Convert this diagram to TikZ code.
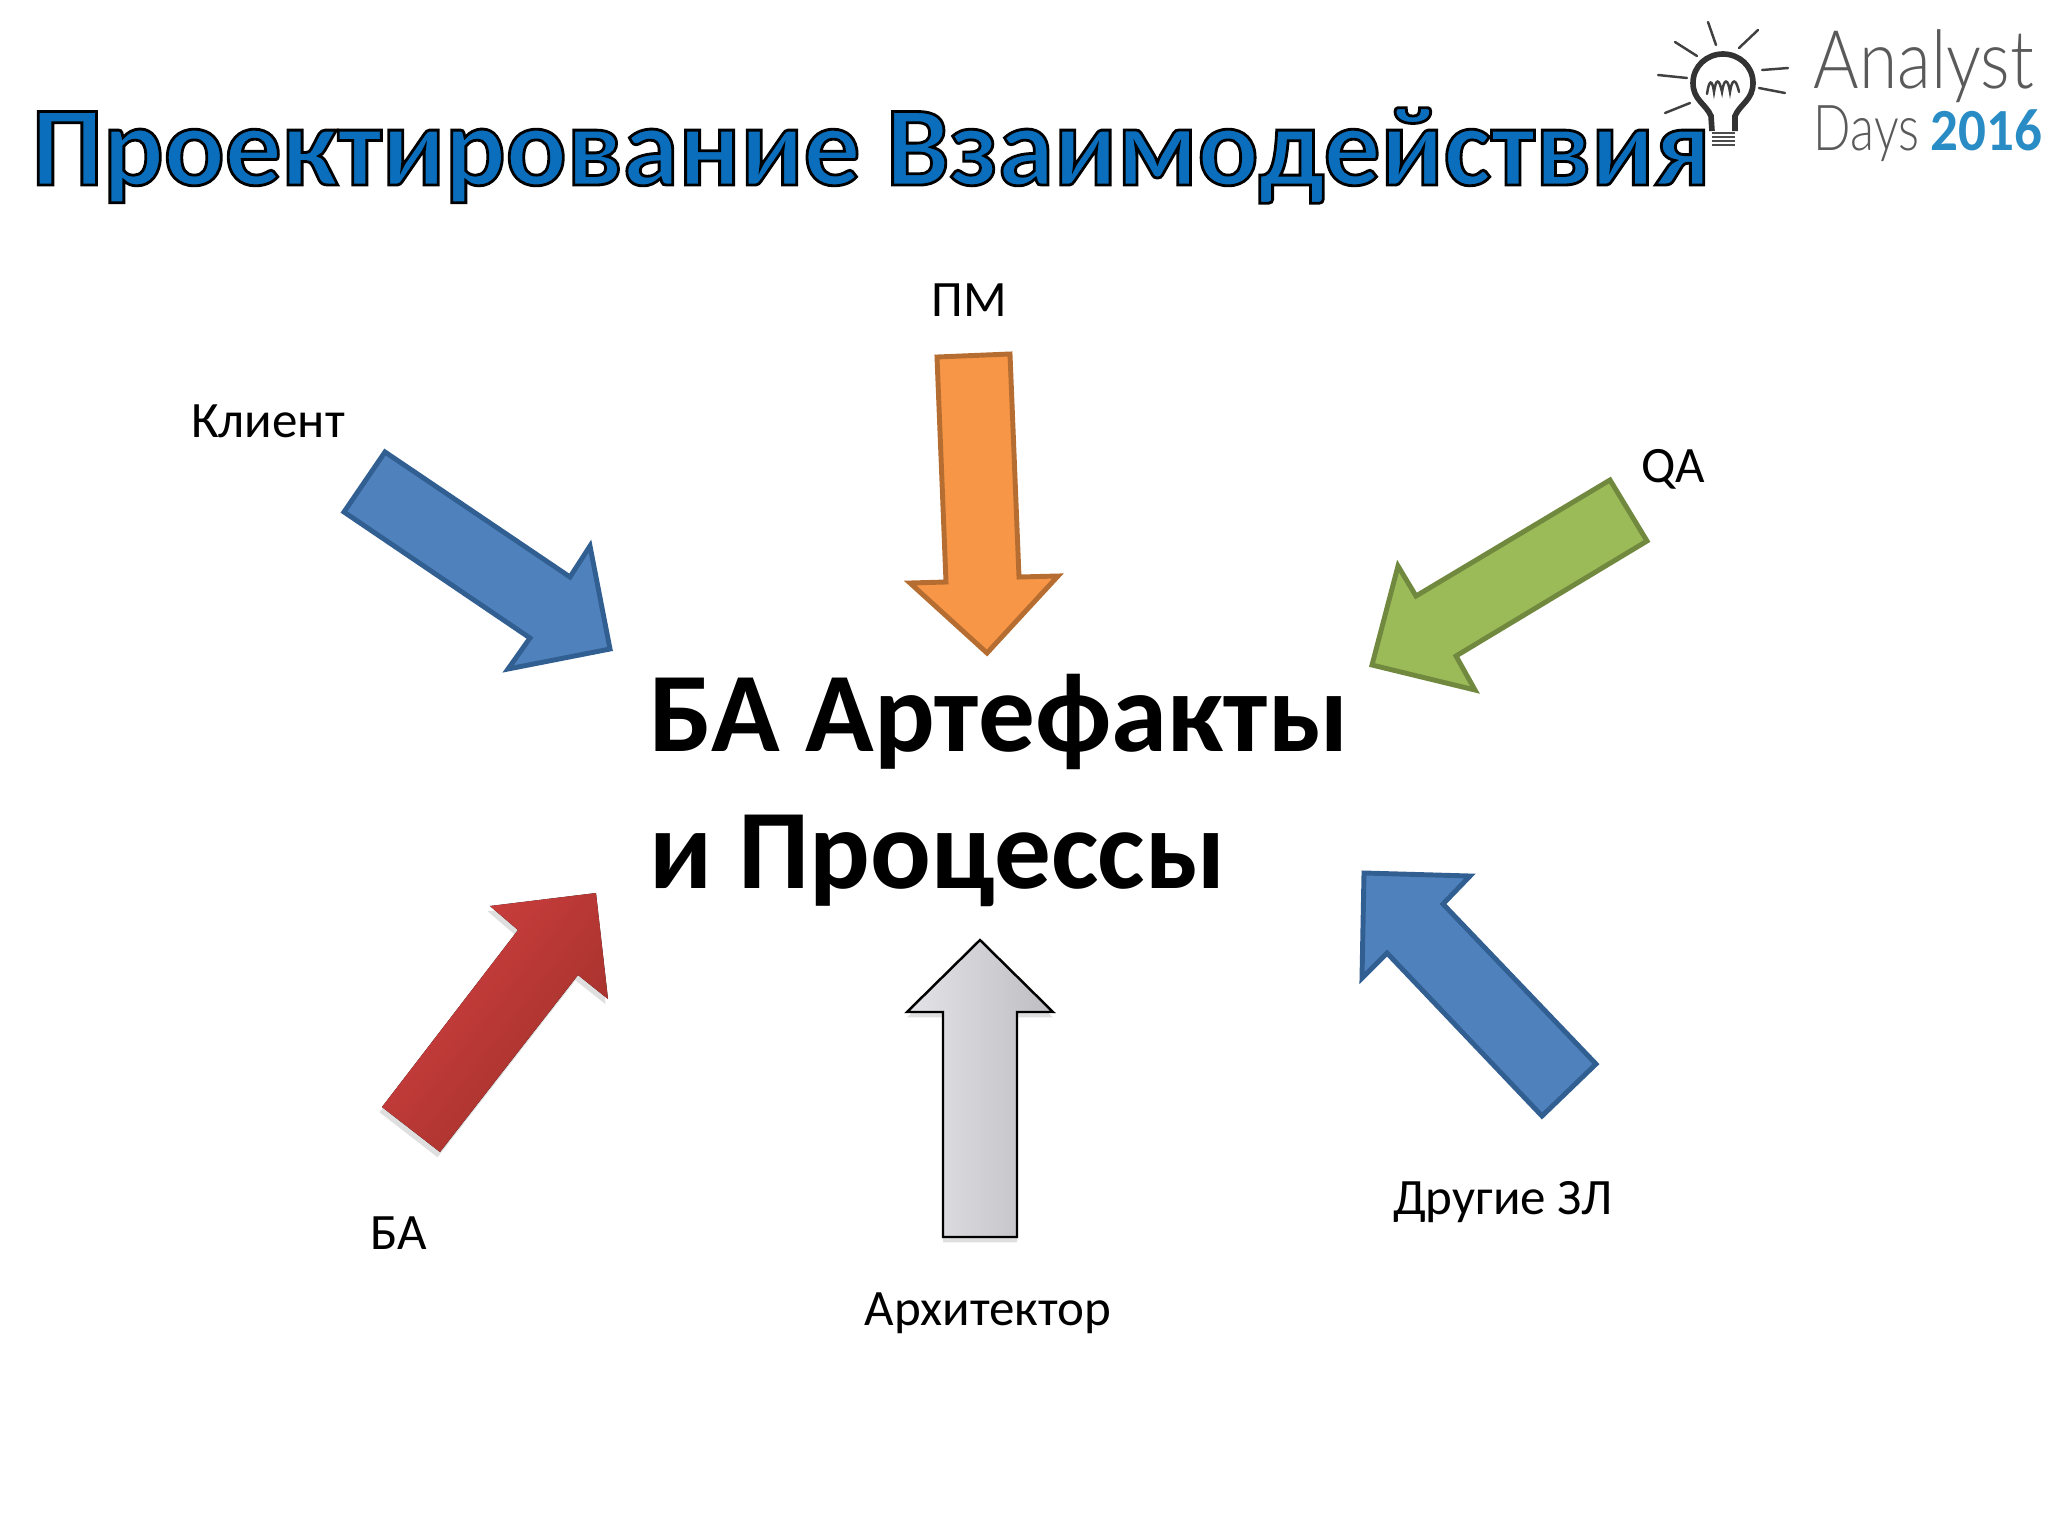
\documentclass[tikz,border=0pt]{standalone}
\usepackage{fontspec}
\setmainfont{Carlito}
\newfontfamily\logofont{Lato Light}
\usetikzlibrary{shadows}
\definecolor{titleblue}{HTML}{0A6EBD}
\definecolor{logogrey}{HTML}{5A5A5A}
\definecolor{logoblue}{HTML}{2A8CC4}
\definecolor{steelfill}{HTML}{4F81BD}
\definecolor{steelline}{HTML}{325F92}
\definecolor{orangefill}{HTML}{F79646}
\definecolor{orangeline}{HTML}{B66D31}
\definecolor{greenfill}{HTML}{9BBB59}
\definecolor{greenline}{HTML}{71893F}
\definecolor{redlight}{HTML}{D04040}
\definecolor{reddark}{HTML}{A0302A}
\definecolor{greylight}{HTML}{E4E4E8}
\definecolor{greydark}{HTML}{BDBDC2}
\newcommand{\outlinetext}[1]{\special{pdf:code 2 Tr 0.8 w 0 0 0 RG}#1\special{pdf:code 0 Tr}}
\tikzset{
  actor/.style={font=\fontsize{14.5}{17}\selectfont,anchor=base,inner sep=0pt},
  bluearrow/.style={draw=steelline,fill=steelfill,line width=1.4pt},
  ray/.style={draw=black!75,line width=0.7pt,line cap=round},
  logotext/.style={anchor=base west,inner sep=0pt,text=logogrey},
  bigtext/.style={anchor=base west,inner sep=0pt,font=\bfseries\fontsize{32.2}{39}\selectfont}
}
\begin{document}
\begin{tikzpicture}[x=0.01cm,y=-0.01cm]
\useasboundingbox (0,0) rectangle (2048,1536);
% logo
\foreach \xa/\ya/\xb/\yb in {1708/22/1716/45,1758/30/1739/48,1675/42/1697/56,1658/75/1687/78,1665/113/1690/103,1762/70/1788/68,1759/88/1785/93}
  \draw [ray] (\xa,\ya) -- (\xb,\yb);
\draw [draw=black!80,line width=1.6pt] (1712,131) -- (1711,116) .. controls (1706,104) and (1693,100) .. (1693,83) .. controls (1693,66) and (1707,54) .. (1723,54) .. controls (1739,54) and (1753,66) .. (1753,83) .. controls (1753,100) and (1740,104) .. (1735,116) -- (1735,131);
\draw [ray] (1707,94) .. controls (1709,80) and (1712,78) .. (1714,92) .. controls (1716,78) and (1719,78) .. (1722,92) .. controls (1724,78) and (1728,78) .. (1730,92) .. controls (1732,78) and (1736,78) .. (1739,92);
\foreach \yy in {133,137,141,145}
  \draw [draw=black!70,line width=0.8pt] (1712,\yy) -- (1735,\yy);
\node [logotext,font=\logofont\fontsize{23}{23}\selectfont] (analyst) at (1813,88) {\scalebox{0.86}[1]{Analyst}};
\node [logotext,font=\logofont\fontsize{18}{18}\selectfont] (days) at (1813,150) {\scalebox{0.78}[1]{Days}};
\node [logotext,text=logoblue,font=\bfseries\fontsize{17}{17}\selectfont] (year) at (1930,150) {\scalebox{0.92}[1]{2016}};
% title
\node [anchor=base west,inner sep=0pt,text=titleblue,font=\bfseries\fontsize{32.2}{38}\selectfont] (title) at (31,185) {\outlinetext{Проектирование Взаимодействия}};
% arrows
\draw [bluearrow] (385,452) -- (344,512) -- (530,638) -- (508,669) -- (610,649) -- (590,546) -- (570,577) -- cycle;
\draw [draw=orangeline,fill=orangefill,line width=1.4pt] (937,357) -- (1010,354) -- (1019,577) -- (1058,576) -- (987,653) -- (910,583) -- (946,582) -- cycle;
\draw [draw=greenline,fill=greenfill,line width=1.4pt] (1610,480) -- (1647,541) -- (1456,656) -- (1475,690) -- (1372,665) -- (1398,566) -- (1416,596) -- cycle;
\draw [bluearrow] (1596,1064) -- (1542,1116) -- (1387,953) -- (1362,978) -- (1364,873) -- (1470,876) -- (1443,904) -- cycle;
\fill [drop shadow={shadow xshift=-0.7pt,shadow yshift=-1.5pt,opacity=0.25},left color=redlight,right color=reddark,shading angle=52] (382,1107) -- (440,1152) -- (578,975) -- (608,999) -- (596,893) -- (490,906) -- (518,930) -- cycle;
\draw [draw=black,line width=0.7pt,drop shadow={shadow xshift=0pt,shadow yshift=-1.5pt,opacity=0.25},left color=greylight,right color=greydark] (980,940) -- (1053,1012) -- (1017,1012) -- (1017,1237) -- (943,1237) -- (943,1012) -- (907,1012) -- cycle;
% centre text
\node [bigtext] (first) at (649,751) {БА Артефакты};
\node [bigtext] (second) at (649,888) {и Процессы};
% labels
\node [actor] (pm) at (969,316) {ПМ};
\node [actor] (client) at (268,437) {Клиент};
\node [actor] (qa) at (1673,482) {QA};
\node [actor] (ba) at (399,1249) {БА};
\node [actor] (architect) at (988,1325) {Архитектор};
\node [actor] (others) at (1503,1214) {Другие ЗЛ};
\end{tikzpicture}
\end{document}
